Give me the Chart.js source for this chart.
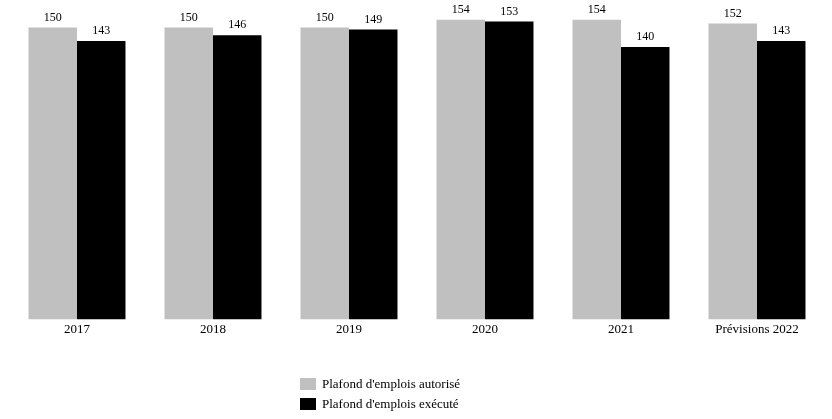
<!DOCTYPE html>
<html><head><meta charset="utf-8">
<script src="https://cdn.jsdelivr.net/npm/chart.js@4/dist/chart.umd.min.js"></script>
<style>
html,body{margin:0;padding:0;background:#fff;}
#wrap{position:relative;width:832px;height:419px;}
#legend{position:absolute;left:300px;top:374px;font:13px "Liberation Serif","DejaVu Serif",serif;color:#000;}
#legend div{display:flex;align-items:center;height:20px;}
#legend span.box{display:inline-block;width:16px;height:12px;margin-right:6px;}
</style></head>
<body>
<div id="wrap"><canvas id="c" width="832" height="419"></canvas>
<div id="legend"></div></div>
<script>
const categories = ["2017","2018","2019","2020","2021","Prévisions 2022"];
const seriesNames = ["Plafond d'emplois autorisé","Plafond d'emplois exécuté"];
const autorise = [150,150,150,154,154,152];
const execute = [143,146,149,153,140,143];
const colors = ["#c0c0c0","#000000"];
const FONT = '"Liberation Serif","DejaVu Serif",serif';

const valueLabels = {
  id:'valueLabels',
  afterDatasetsDraw(chart){
    const ctx = chart.ctx;
    ctx.save();
    ctx.font = '12px ' + FONT;
    ctx.fillStyle = '#000';
    ctx.textAlign = 'center';
    ctx.textBaseline = 'bottom';
    chart.data.datasets.forEach((ds,i)=>{
      chart.getDatasetMeta(i).data.forEach((bar,j)=>{
        ctx.fillText(String(ds.data[j]), bar.x, bar.y - 4);
      });
    });
    ctx.restore();
  }
};

new Chart(document.getElementById('c'),{
  type:'bar',
  data:{labels:categories,datasets:[
    {label:seriesNames[0],data:autorise,backgroundColor:colors[0],categoryPercentage:0.713,barPercentage:1.0},
    {label:seriesNames[1],data:execute,backgroundColor:colors[1],categoryPercentage:0.713,barPercentage:1.0}
  ]},
  options:{
    responsive:false,animation:false,
    layout:{padding:{top:8,left:9,right:7,bottom:80}},
    plugins:{legend:{display:false},tooltip:{enabled:false}},
    scales:{
      x:{grid:{display:false,drawTicks:false},border:{display:false},
         ticks:{color:'#000',font:{family:FONT,size:13},padding:2}},
      y:{display:false,min:0,max:160}
    }
  },
  plugins:[valueLabels]
});

const lg = document.getElementById('legend');
seriesNames.forEach((n,i)=>{
  const d=document.createElement('div');
  d.innerHTML='<span class="box" style="background:'+colors[i]+'"></span>'+n;
  lg.appendChild(d);
});
</script>
</body></html>
